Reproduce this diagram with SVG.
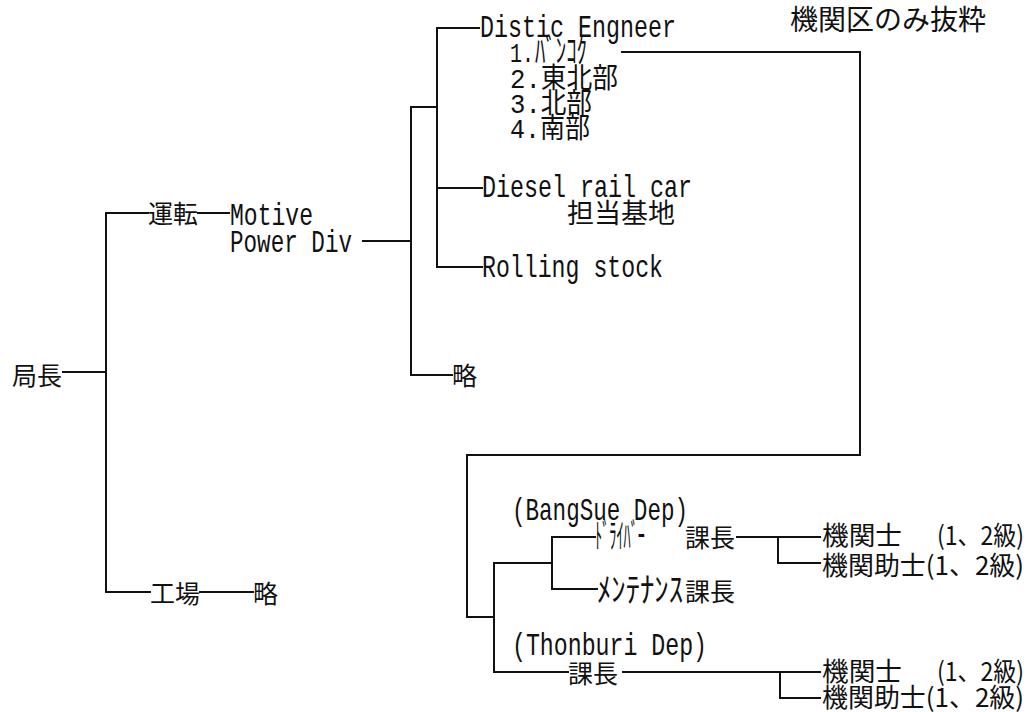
<svg xmlns="http://www.w3.org/2000/svg" width="1034" height="712" viewBox="0 0 1034 712">
<style>
.bg{fill:#fff}
.c path{fill:none;stroke:#111;stroke-width:2;stroke-linecap:square}
text{fill:#111}
.m{font-family:"Liberation Mono","Noto Sans CJK JP",monospace;font-size:32px}
.n{font-family:"Liberation Mono","Noto Sans CJK JP",monospace;font-size:28px}
.h{font-family:"Noto Sans CJK JP",sans-serif;font-size:34px}
.j{font-family:"Noto Sans CJK JP",sans-serif;font-size:25px}
.k{font-family:"Noto Sans CJK JP",sans-serif;font-size:26px}
</style>
<rect class="bg" x="0" y="0" width="1034" height="712"/>
<g class="c" id="connectors">
<path d="M63,372H106"/>
<path d="M106,213V592"/>
<path d="M106,213H148"/>
<path d="M198,213H229"/>
<path d="M106,592H150"/>
<path d="M200,592H253"/>
<path d="M363,241H411"/>
<path d="M411,107V375"/>
<path d="M411,107H437"/>
<path d="M411,375H452"/>
<path d="M437,28V267"/>
<path d="M437,28H479"/>
<path d="M437,188H482"/>
<path d="M437,267H482"/>
<path d="M622,52H860V455H467V617H494"/>
<path d="M494,563V672"/>
<path d="M494,563H552"/>
<path d="M552,537V589"/>
<path d="M552,537H595"/>
<path d="M552,589H597"/>
<path d="M494,672H568"/>
<path d="M623,672H820"/>
<path d="M737,537H820"/>
<path d="M778,537V563H820"/>
<path d="M780,672V698H820"/>
</g>
<g id="title"><text class="j" x="790" y="30" style="font-size:28px">機関区のみ抜粋</text></g>
<g id="kyokucho"><text class="j" x="12" y="385">局長</text></g>
<g id="unten"><text class="j" x="148" y="223">運転</text></g>
<g id="motive">
<text class="m" x="230" y="225" textLength="83" lengthAdjust="spacingAndGlyphs">Motive</text>
<text class="m" x="230" y="252" textLength="122" lengthAdjust="spacingAndGlyphs">Power Div</text>
</g>
<g id="distic">
<text class="m" x="480" y="37" textLength="196" lengthAdjust="spacingAndGlyphs">Distic Engneer</text>
<text class="n" x="510" y="62" textLength="24" lengthAdjust="spacingAndGlyphs">1.</text>
<text class="h" x="535" y="63" textLength="52" lengthAdjust="spacingAndGlyphs">ﾊﾞﾝｺｸ</text>
<text class="n" x="510" y="88" textLength="108" lengthAdjust="spacingAndGlyphs">2.東北部</text>
<text class="n" x="510" y="113" textLength="82" lengthAdjust="spacingAndGlyphs">3.北部</text>
<text class="n" x="510" y="138" textLength="80" lengthAdjust="spacingAndGlyphs">4.南部</text>
</g>
<g id="diesel">
<text class="m" x="482" y="197" textLength="210" lengthAdjust="spacingAndGlyphs">Diesel rail car</text>
<text class="j" x="567" y="223" style="font-size:27px">担当基地</text>
</g>
<g id="rolling"><text class="m" x="482" y="277" textLength="181" lengthAdjust="spacingAndGlyphs">Rolling stock</text></g>
<g id="ryaku1"><text class="j" x="452" y="385">略</text></g>
<g id="kojo"><text class="j" x="150" y="603">工場</text></g>
<g id="ryaku2"><text class="j" x="253" y="603">略</text></g>
<g id="bangsue">
<text class="m" x="512" y="520" textLength="176" lengthAdjust="spacingAndGlyphs">(BangSue Dep)</text>
</g>
<g id="driver">
<text class="h" x="595" y="548" textLength="50" lengthAdjust="spacingAndGlyphs">ﾄﾞﾗｲﾊﾞｰ</text>
<text class="j" x="685" y="547">課長</text>
</g>
<g id="maint">
<text class="h" x="597" y="602" textLength="86" lengthAdjust="spacingAndGlyphs">ﾒﾝﾃﾅﾝｽ</text>
<text class="j" x="685" y="601">課長</text>
</g>
<g id="thonburi">
<text class="m" x="512" y="655" textLength="195" lengthAdjust="spacingAndGlyphs">(Thonburi Dep)</text>
</g>
<g id="kacho2"><text class="j" x="568" y="683">課長</text></g>
<g id="b-kikanshi">
<text class="k" x="822" y="545" textLength="80" lengthAdjust="spacingAndGlyphs">機関士</text>
<text class="k" x="937" y="545" textLength="87" lengthAdjust="spacingAndGlyphs">(1、2級)</text>
</g>
<g id="b-joshi"><text class="k" x="822" y="575" textLength="202" lengthAdjust="spacingAndGlyphs">機関助士(1、2級)</text></g>
<g id="t-kikanshi">
<text class="k" x="822" y="681" textLength="80" lengthAdjust="spacingAndGlyphs">機関士</text>
<text class="k" x="937" y="681" textLength="87" lengthAdjust="spacingAndGlyphs">(1、2級)</text>
</g>
<g id="t-joshi"><text class="k" x="822" y="707" textLength="202" lengthAdjust="spacingAndGlyphs">機関助士(1、2級)</text></g>
</svg>
